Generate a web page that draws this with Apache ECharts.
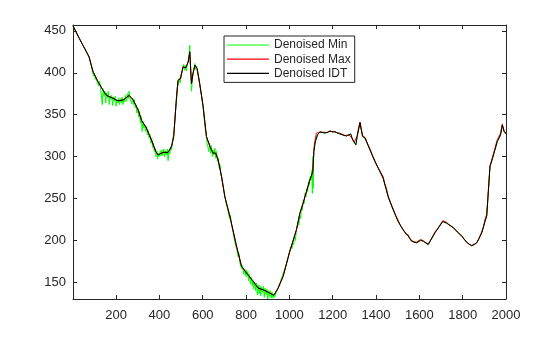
<!DOCTYPE html>
<html>
<head>
<meta charset="utf-8">
<script src="https://cdn.jsdelivr.net/npm/echarts/dist/echarts.min.js"></script>
<style>html,body{margin:0;padding:0;background:#fff}#c{width:560px;height:337px}</style>
</head>
<body>
<div id="c"></div>
<script>
var seriesNames = ['Denoised Min', 'Denoised Max', 'Denoised IDT'];
var xTicks = [200, 400, 600, 800, 1000, 1200, 1400, 1600, 1800, 2000];
var yTicks = [150, 200, 250, 300, 350, 400, 450];

var idt = [[1,456],[30,441],[63,425],[75,419],[94,401],[117,389],[140,379],[156,373],[186,369.5],[209,366.5],[232,367.5],[248,370.5],[260,373],[279,367.5],[302,355.5],[317,343.5],[340,334],[363,320],[383,306],[394,302],[417,305],[440,305],[456,312],[466,324],[479,371],[486,391],[497,393],[509,407],[522,406],[533,413],[540,425],[548,387],[555,399],[564,409],[574,405],[586,387],[602,359.5],[617,324],[633,312],[648,304],[660,304],[671,296],[687,276],[702,252],[725,229],[756,193],[779,169],[802,161],[833,151],[856,143],[879,141],[910,137],[928,134.5],[948,143],[971,157],[1002,187],[1033,213],[1048,232],[1064,245],[1092,270],[1108,282],[1113,306],[1120,318],[1130,326],[1141,329.5],[1164,328],[1187,330],[1210,329.5],[1233,327],[1264,324.5],[1283,327],[1292,320],[1307,314],[1313,324],[1326,340.5],[1338,324],[1349,322],[1372,308],[1395,294],[1418,282],[1433,274],[1456,252],[1479,236.5],[1502,222.5],[1526,212],[1549,205],[1564,199],[1587,197],[1606,200],[1618,199],[1641,195],[1672,209],[1708,222.5],[1726,220.5],[1757,215],[1795,205],[1821,197],[1842,193.5],[1865,197],[1888,209],[1903,222.5],[1911,229],[1918,256],[1926,288],[1938,298],[1949,308],[1960,318],[1969,316],[1975,326],[1983,337.5],[1991,330],[2000,327]];

var minNoisy = [[1,456],[30,441],[63,425],[75,419],[84,410],[88,404],[92,405],[96,396],[100,399],[104,392],[108,395],[112,389],[116,391],[120,384],[124,390],[128,383],[132,385],[136,362],[140,381],[144,372],[148,378],[152,364],[156,376],[160,370],[164,378],[168,362],[172,372],[176,368],[180,373],[184,361],[188,371],[192,366],[196,372],[200,360],[204,368],[208,364],[212,370],[216,362],[220,369],[224,364],[228,371],[232,362],[236,369],[240,365],[244,373],[248,366],[252,375],[256,369],[260,378],[264,370],[268,372],[272,363],[276,370],[280,362],[284,368],[288,358],[292,362],[296,352],[300,358],[304,347],[308,354],[312,340],[316,348],[320,330],[324,342],[328,334],[332,338],[336,330],[340,336],[344,326],[348,331],[352,322],[356,326],[360,316],[364,322],[368,311],[372,316],[376,306],[380,310],[384,300],[388,307],[392,297],[396,304],[400,300],[404,307],[408,301],[412,308],[416,301],[420,309],[424,300],[428,307],[432,302],[436,309],[440,295],[444,307],[448,303],[452,312],[456,308],[460,318],[464,316],[468,332],[472,345],[476,362],[480,370],[484,388],[488,385],[492,394],[496,388],[500,397],[504,402],[508,400],[512,410],[516,403],[520,409],[524,402],[528,410],[532,408],[536,418],[540,433],[544,400],[548,378],[552,392],[556,402],[560,406],[564,411],[568,404],[572,408],[576,400],[580,396],[584,390],[588,382],[592,377],[596,370],[600,362],[604,352],[608,342],[612,332],[616,326],[620,316],[624,318],[628,306],[632,316],[636,304],[640,313],[644,300],[648,308],[652,302],[656,310],[660,298],[664,306],[668,294],[672,298],[676,286],[680,290],[684,278],[688,280],[692,268],[696,266],[700,256],[704,256],[708,244],[712,246],[716,236],[720,238],[724,226],[728,230],[732,220],[736,220],[740,210],[744,212],[748,198],[752,200],[756,190],[760,192],[764,180],[768,184],[772,172],[776,174],[780,166],[784,170],[788,160],[792,166],[796,158],[800,165],[804,156],[808,163],[812,152],[816,160],[820,148],[824,156],[828,146],[832,153],[836,142],[840,150],[844,140],[848,149],[852,135],[856,147],[860,136],[864,146],[868,134],[872,144],[876,138],[880,145],[884,132],[888,143],[892,135],[896,142],[900,130],[904,140],[908,133],[912,140],[916,131],[920,138],[924,131],[928,135],[932,132],[936,136],[940,134],[944,140],[948,141],[952,146],[956,145],[960,152],[964,151],[968,158],[972,156],[976,164],[980,162],[984,170],[988,170],[992,178],[996,178],[1000,186],[1004,185],[1008,193],[1012,190],[1016,198],[1020,195],[1024,206],[1028,200],[1032,212],[1036,210],[1040,222],[1044,218],[1048,230],[1052,226],[1056,240],[1060,236],[1064,248],[1068,244],[1072,256],[1076,252],[1080,262],[1084,258],[1088,270],[1092,266],[1096,276],[1100,272],[1104,284],[1106,256],[1108,300],[1110,262],[1112,306],[1116,314],[1120,318]];

var maxNoisy = [[1116,316],[1125,328],[1135,329],[1141,330.5],[1150,329],[1164,329],[1175,328.5],[1187,331],[1200,329],[1210,330],[1222,328],[1233,328],[1245,326],[1255,325],[1264,325.5],[1275,326],[1283,328],[1292,321],[1300,317],[1307,315],[1313,325],[1320,335],[1326,341],[1332,332],[1338,325],[1349,323],[1360,316],[1372,309],[1384,301],[1395,295],[1405,289],[1418,283],[1426,279],[1433,276],[1440,268],[1448,262],[1456,253],[1467,245],[1479,237.5],[1490,230],[1502,224],[1514,217],[1526,213],[1538,207],[1549,206.5],[1556,202],[1564,200],[1575,198],[1587,198],[1596,198.5],[1606,201],[1618,199.5],[1630,197],[1641,196],[1656,202],[1672,210],[1690,216],[1708,223.5],[1726,221.5],[1740,218],[1757,215.5],[1775,210],[1795,206],[1810,200],[1821,197.5],[1832,195],[1842,194],[1855,195],[1865,197.5],[1876,202],[1888,210.5],[1896,216],[1903,225],[1911,231],[1918,258],[1926,289],[1932,294],[1938,300],[1944,305],[1949,310],[1955,316],[1960,320],[1966,320],[1969,318],[1975,328],[1983,339],[1988,334],[1991,331],[2000,328]];

var minData = minNoisy.concat(idt.filter(function (p) { return p[0] > 1120; }));
var maxData = idt.filter(function (p) { return p[0] < 1116; }).concat(maxNoisy);

var axisColor = '#262626';
var font = 'Liberation Sans, Arial, Helvetica, sans-serif';
function plain(v) { return String(v); }

function mkX(pos, labels) {
  return {
    type: 'value', position: pos, min: 1, max: 2000,
    axisLine: { show: true, onZero: false, lineStyle: { color: axisColor, width: 1 } },
    axisTick: { show: true, inside: true, length: 4, customValues: xTicks, lineStyle: { color: axisColor } },
    axisLabel: { show: labels, customValues: xTicks, formatter: plain, margin: 10, fontSize: 13, color: axisColor, fontFamily: font },
    splitLine: { show: false }
  };
}
function mkY(pos, labels) {
  return {
    type: 'value', position: pos, min: 130, max: 457,
    axisLine: { show: true, onZero: false, lineStyle: { color: axisColor, width: 1 } },
    axisTick: { show: true, inside: true, length: 4, customValues: yTicks, lineStyle: { color: axisColor } },
    axisLabel: { show: labels, customValues: yTicks, formatter: plain, margin: 7, fontSize: 13, color: axisColor, fontFamily: font },
    splitLine: { show: false }
  };
}

var chart = echarts.init(document.getElementById('c'), null, { renderer: 'canvas' });
chart.setOption({
  animation: false,
  backgroundColor: '#fff',
  grid: { left: 73, right: 54, top: 25, bottom: 38 },
  xAxis: [mkX('bottom', true), mkX('top', false)],
  yAxis: [mkY('left', true), mkY('right', false)],
  legend: {
    orient: 'vertical', left: 224, top: 36,
    icon: 'rect',
    itemWidth: 42, itemHeight: 1.2, itemGap: 2.2,
    padding: [3, 4, 3, 3],
    borderColor: axisColor, borderWidth: 1, backgroundColor: '#fff',
    textStyle: { fontSize: 12, color: axisColor, fontFamily: font },
    data: seriesNames
  },
  series: [
    { name: seriesNames[0], type: 'line', data: minData, symbol: 'none', lineStyle: { color: '#00ff00', width: 1 }, itemStyle: { color: '#00ff00' } },
    { name: seriesNames[1], type: 'line', data: maxData, symbol: 'none', lineStyle: { color: '#ff0000', width: 1 }, itemStyle: { color: '#ff0000' } },
    { name: seriesNames[2], type: 'line', data: idt, symbol: 'none', lineStyle: { color: '#000000', width: 1 }, itemStyle: { color: '#000000' } }
  ]
});
</script>
</body>
</html>
